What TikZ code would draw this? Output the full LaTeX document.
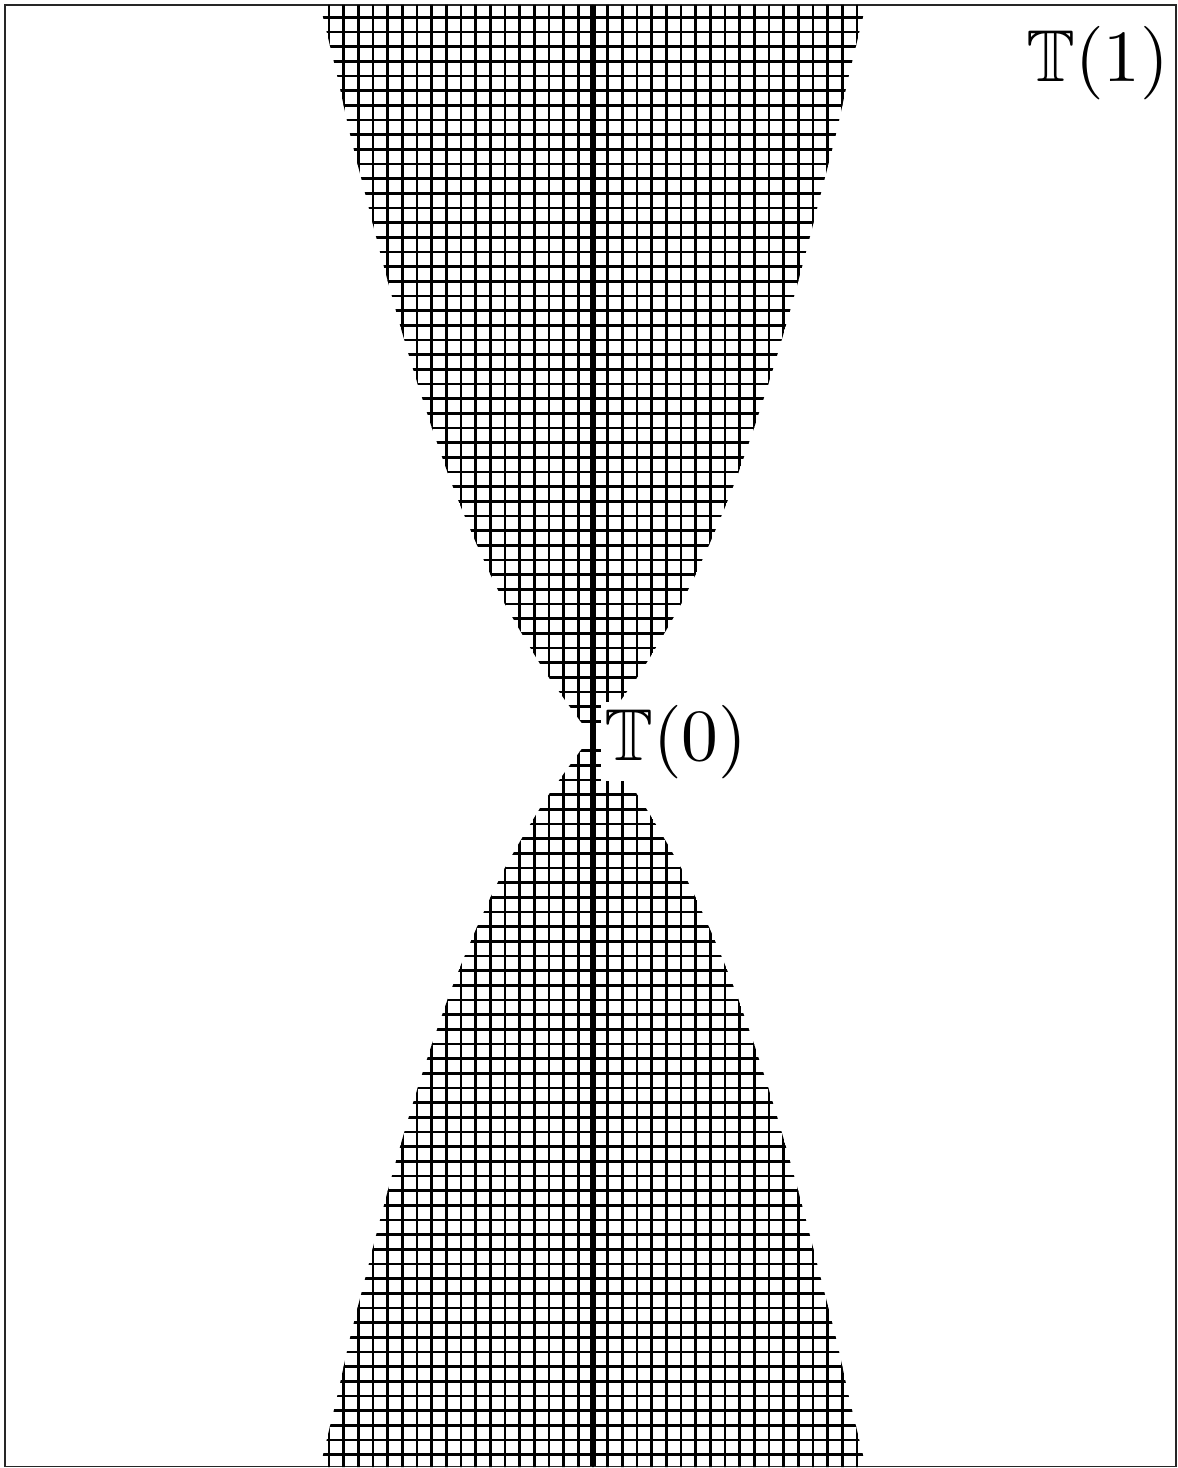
\documentclass[tikz,border=0pt]{standalone}
\usepackage{graphicx}
\usepackage{amssymb}
\tikzset{
  gridline/.style={line width=2.7pt, black},
  axisline/.style={line width=5.4pt, black},
  framebox/.style={line width=1.4pt, black!85},
  lbl/.style={fill=white, inner sep=3pt, anchor=base west}
}
\newcommand\biglabel[1]{\scalebox{7.35}{$#1$}}
\begin{document}
\begin{tikzpicture}[x=1pt,y=1pt]
\useasboundingbox (-593,-732) rectangle (585,736);
\draw[framebox] (-588,731) rectangle (583,-730.5);
\begin{scope}
\clip plot[smooth] coordinates {(-272.5,731) (-270,719) (-256,661) (-243,602) (-228,543) (-213,484) (-197,425) (-180,367) (-161,308) (-140,249) (-116,191) (-88,132) (-53.5,73) (-33,43) (-12,14) (0,0)}
 -- plot[smooth] coordinates {(0,0) (-12,-14) (-33,-43) (-53.5,-73) (-88,-132) (-116,-191) (-140,-249) (-161,-308) (-180,-367) (-197,-425) (-213,-484) (-228,-543) (-243,-602) (-256,-661) (-270,-719) (-272.5,-731)}
 -- plot[smooth] coordinates {(272.5,-731) (270,-719) (256,-661) (243,-602) (228,-543) (213,-484) (197,-425) (180,-367) (161,-308) (140,-249) (116,-191) (88,-132) (53.5,-73) (33,-43) (12,-14) (0,0)}
 -- plot[smooth] coordinates {(0,0) (12,14) (33,43) (53.5,73) (88,132) (116,191) (140,249) (161,308) (180,367) (197,425) (213,484) (228,543) (243,602) (256,661) (270,719) (272.5,731)}
 -- cycle;
\foreach \k in {-19,...,19} \draw[gridline] ({14.667*\k},-740) -- ({14.667*\k},740);
\foreach \k in {-50,...,50} \draw[gridline] (-300,{14.667*\k}) -- (300,{14.667*\k});
\end{scope}
\coordinate (axtop) at (0,731);
\coordinate (axbot) at (0,-730);
\draw[axisline] (axtop) -- (axbot);
\node[lbl] (t0) at (8,-24) {\biglabel{\mathbb{T}(0)}};
\node[lbl] (t1) at (430,654) {\biglabel{\mathbb{T}(1)}};
\end{tikzpicture}
\end{document}
